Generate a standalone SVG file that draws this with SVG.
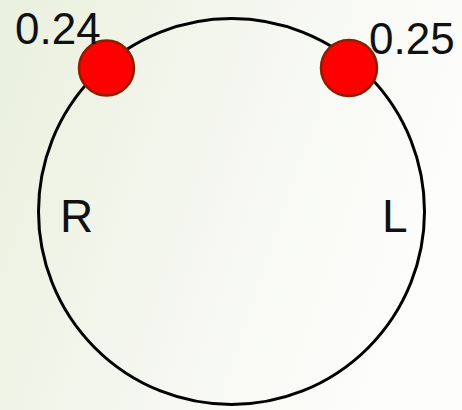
<svg xmlns="http://www.w3.org/2000/svg" width="462" height="410" viewBox="0 0 462 410">
<defs>
<linearGradient id="bg" x1="0" y1="0" x2="1" y2="0.3">
<stop offset="0" stop-color="#eaf0de"/>
<stop offset="0.6" stop-color="#f6f8f1"/>
<stop offset="1" stop-color="#fdfdfc"/>
</linearGradient>
<style>
.lbl{font-family:"Liberation Sans",Arial,sans-serif;fill:#111;}
.dot{fill:#ff0000;stroke:#8b2000;stroke-width:2.5;}
</style>
</defs>
<rect width="462" height="410" fill="url(#bg)"/>
<g id="ring">
<circle cx="231.5" cy="211.5" r="193" fill="none" stroke="#000" stroke-width="3"/>
</g>
<g id="node-024">
<circle class="dot" cx="106.5" cy="68" r="27.5"/>
<text class="lbl" x="15" y="44" font-size="44">0.24</text>
</g>
<g id="node-025">
<circle class="dot" cx="349" cy="68" r="28"/>
<text class="lbl" x="369" y="54" font-size="44">0.25</text>
</g>
<g id="label-R">
<text class="lbl" x="60" y="232" font-size="46">R</text>
</g>
<g id="label-L">
<text class="lbl" x="382" y="232" font-size="46">L</text>
</g>
</svg>
